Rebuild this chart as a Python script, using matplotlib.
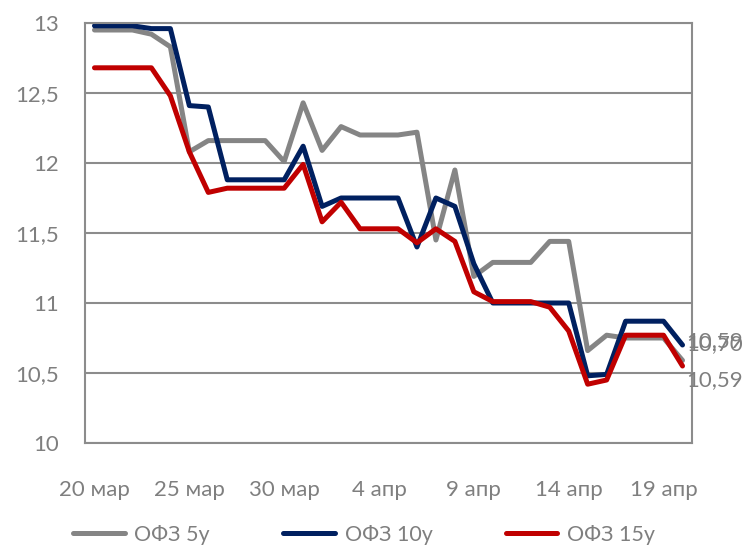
import matplotlib.pyplot as plt

# доходность ОФЗ по дням, 20 мар - 20 апр
dates = list(range(32))
tick_pos = [0, 5, 10, 15, 20, 25, 30]
tick_labels = ["20 мар", "25 мар", "30 мар", "4 апр", "9 апр", "14 апр", "19 апр"]

ofz5 = [12.95, 12.95, 12.95, 12.92, 12.83, 12.08, 12.16, 12.16, 12.16, 12.16,
        12.01, 12.43, 12.09, 12.26, 12.20, 12.20, 12.20, 12.22, 11.45, 11.95,
        11.19, 11.29, 11.29, 11.29, 11.44, 11.44, 10.66, 10.77, 10.75, 10.75,
        10.75, 10.59]
ofz10 = [12.98, 12.98, 12.98, 12.96, 12.96, 12.41, 12.40, 11.88, 11.88, 11.88,
         11.88, 12.12, 11.69, 11.75, 11.75, 11.75, 11.75, 11.40, 11.75, 11.69,
         11.28, 11.00, 11.00, 11.00, 11.00, 11.00, 10.48, 10.49, 10.87, 10.87,
         10.87, 10.70]
ofz15 = [12.68, 12.68, 12.68, 12.68, 12.48, 12.08, 11.79, 11.82, 11.82, 11.82,
         11.82, 11.99, 11.58, 11.72, 11.53, 11.53, 11.53, 11.43, 11.53, 11.44,
         11.08, 11.01, 11.01, 11.01, 10.97, 10.80, 10.42, 10.45, 10.77, 10.77,
         10.77, 10.55]

y_ticks = [10, 10.5, 11, 11.5, 12, 12.5, 13]
y_labels = ["10", "10,5", "11", "11,5", "12", "12,5", "13"]
end_labels = ["10,59", "10,70", "10,59"]

plt.rcParams["font.family"] = ["Lato", "DejaVu Sans"]
txt = "#7f7f7f"
grid = "#8c8c8c"

fig = plt.figure(figsize=(7.51, 5.48), dpi=100)
ax = fig.add_axes([85 / 751, 105 / 548, 607 / 751, 420 / 548])

series = [("ОФЗ 5y", ofz5, "#858585"), ("ОФЗ 10y", ofz10, "#002060"),
          ("ОФЗ 15y", ofz15, "#c00000")]
for name, vals, col in series:
    ax.plot(dates, vals, color=col, lw=3.6, label=name,
            solid_joinstyle="round", solid_capstyle="round")

# подписи последних значений (в оригинале две подписи наложены друг на друга)
offsets = [19, 1, -14]
for (name, vals, col), lab, dy in zip(series, end_labels, offsets):
    ax.annotate(lab, (dates[-1], vals[-1]), xytext=(4, dy),
                textcoords="offset pixels", ha="left", va="center",
                fontsize=16, color=txt, annotation_clip=False)

ax.set_xlim(-0.5, 31.5)
ax.set_ylim(10, 13)
ax.set_xticks(tick_pos)
ax.set_xticklabels(tick_labels)
ax.set_yticks(y_ticks)
ax.set_yticklabels(y_labels)
ax.tick_params(axis="x", length=0, pad=27, labelsize=16, labelcolor=txt)
ax.tick_params(axis="y", length=0, pad=19, labelsize=16, labelcolor=txt)
ax.grid(axis="y", color=grid, lw=1.5)
ax.set_axisbelow(True)
for s in ax.spines.values():
    s.set_color(grid)
    s.set_linewidth(1.5)

fig.legend(loc="center", bbox_to_anchor=(364 / 751, 13 / 548), ncol=3,
           frameon=False, fontsize=15.5, labelcolor=txt, handlelength=2.4,
           handletextpad=0.45, columnspacing=3.4)

plt.savefig("out.png", dpi=100)
plt.close()
